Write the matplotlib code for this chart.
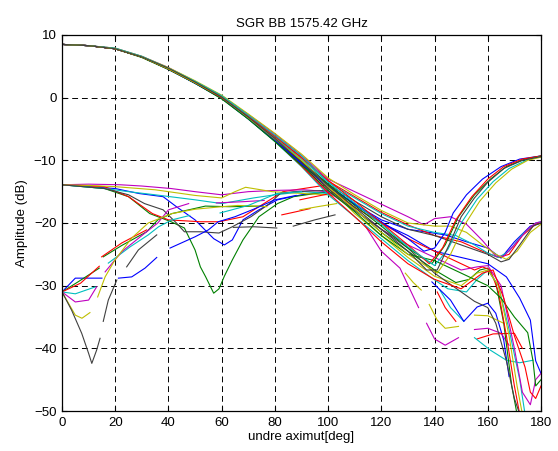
import numpy as np
import matplotlib.pyplot as plt

nan = np.nan

# matlab style line colours
B, G, R, C, M, Y, K = '#0000ff', '#008000', '#ff0000', '#00bfbf', '#bf00bf', '#bfbf00', '#404040'

head_x = [0, 10, 20, 30, 40, 50, 60, 70, 80, 90]

# main lobe curves: rise back to -10 dB at 180
rise_b = (head_x + [100, 110, 120, 130, 136, 140, 144, 147, 152, 158, 165, 172, 180],
          [8.5, 8.3, 7.8, 6.5, 4.6, 2.3, -0.1, -3.3, -6.8, -10.5,
           -14.0, -17.0, -19.8, -22.5, -24.5, -24.0, -21.5, -18.4, -15.5, -13.0, -11.0, -9.8, -9.3])
rise_r = (head_x + [100, 110, 120, 130, 138, 143, 148, 154, 160, 166, 173, 180],
          [8.5, 8.3, 7.8, 6.5, 4.6, 2.4, 0.0, -3.0, -6.2, -9.6,
           -13.2, -16.5, -20.0, -23.5, -26.5, -24.0, -19.5, -15.8, -13.0, -11.0, -9.8, -9.3])
rise_k = (head_x + [100, 110, 120, 130, 137, 141, 146, 150, 155, 160, 166, 173, 180],
          [8.5, 8.3, 7.8, 6.5, 4.7, 2.5, 0.1, -3.1, -6.5, -10.3,
           -14.0, -17.5, -21.0, -24.5, -27.5, -27.5, -23.0, -19.0, -16.0, -13.5, -11.3, -10.0, -9.4])
rise_g = (head_x + [100, 110, 120, 130, 139, 144, 149, 155, 161, 167, 174, 180],
          [8.5, 8.3, 7.8, 6.4, 4.5, 2.3, -0.2, -3.4, -7.0, -10.8,
           -13.8, -17.2, -20.5, -24.0, -26.5, -23.5, -19.0, -15.5, -13.0, -11.0, -9.8, -9.3])
rise_c = (head_x + [100, 110, 120, 130, 140, 145, 150, 156, 162, 168, 175, 180],
          [8.5, 8.3, 7.9, 6.6, 4.7, 2.6, 0.3, -2.8, -6.0, -9.3,
           -13.5, -16.8, -20.2, -23.8, -26.8, -24.2, -20.0, -16.2, -13.4, -11.3, -9.9, -9.4])
rise_y = (head_x + [100, 110, 120, 130, 141, 146, 151, 157, 163, 169, 175, 180],
          [8.5, 8.3, 7.8, 6.5, 4.6, 2.4, 0.1, -3.2, -6.6, -10.0,
           -14.2, -17.8, -21.5, -25.0, -28.0, -25.0, -20.5, -16.5, -13.6, -11.4, -10.0, -9.5])

# main lobe curves: dip near 165 and back to -20
v_m = (head_x + [100, 110, 120, 130, 136, 140, 146, 152, 158, 163, 166, 170, 175, 178, 180],
       [8.5, 8.3, 7.9, 6.6, 4.8, 2.6, 0.3, -2.7, -5.8, -9.2,
        -13.0, -15.0, -17.0, -19.0, -20.3, -19.3, -19.0, -20.2, -22.8, -25.3, -25.3, -23.5, -21.0, -20.0, -19.8])
v_y = (head_x + [100, 110, 120, 130, 140, 146, 152, 158, 163, 167, 171, 176, 180],
       [8.5, 8.3, 7.9, 6.6, 4.8, 2.7, 0.4, -2.6, -5.7, -9.0,
        -12.8, -15.5, -18.0, -20.0, -20.5, -20.5, -21.5, -23.5, -25.0, -25.8, -24.5, -21.5, -20.2])
v_c = (head_x + [100, 110, 120, 130, 140, 148, 155, 160, 164, 168, 173, 178, 180],
       [8.5, 8.3, 7.8, 6.5, 4.6, 2.4, 0.0, -3.1, -6.4, -9.8,
        -13.5, -16.0, -18.5, -20.5, -21.5, -22.0, -23.5, -24.8, -25.5, -24.5, -21.8, -20.0, -19.8])
v_k = (head_x + [100, 110, 120, 130, 140, 150, 160, 165, 168, 172, 177, 180],
       [8.5, 8.3, 7.8, 6.5, 4.6, 2.4, 0.0, -3.2, -6.7, -10.2,
        -13.8, -16.5, -19.0, -21.0, -22.0, -23.5, -25.0, -26.2, -25.8, -23.5, -20.5, -20.0])
v_b = (head_x + [100, 110, 120, 130, 138, 144, 152, 160, 165, 170, 176, 180],
       [8.5, 8.3, 7.8, 6.5, 4.5, 2.3, -0.1, -3.4, -6.9, -10.6,
        -14.2, -17.0, -19.5, -21.0, -21.5, -21.9, -23.0, -24.0, -25.6, -23.0, -20.5, -20.0])
v_r = (head_x + [100, 110, 120, 130, 140, 150, 158, 164, 168, 173, 178, 180],
       [8.5, 8.3, 7.8, 6.5, 4.6, 2.5, 0.2, -2.9, -6.1, -9.5,
        -13.3, -15.8, -18.3, -20.3, -22.0, -23.0, -24.5, -25.5, -25.0, -22.0, -20.2, -20.0])

# main lobe curves: falling off past 160
d_r = (head_x + [100, 110, 120, 130, 140, 150, 155, 158, 161, 164, 167, 170, 172],
       [8.5, 8.3, 7.8, 6.5, 4.6, 2.4, 0.0, -3.3, -6.9, -10.6,
        -14.5, -17.5, -20.0, -22.5, -24.5, -26.5, -27.5, -27.0, -27.5, -31.0, -38.0, -46.0, -50.5])
d_g = (head_x + [100, 110, 120, 130, 140, 148, 153, 157, 160, 163, 166, 169, 171],
       [8.5, 8.3, 7.8, 6.5, 4.6, 2.4, 0.0, -3.2, -6.6, -10.1,
        -13.8, -17.8, -21.5, -24.5, -27.5, -29.5, -29.0, -27.5, -27.2, -29.5, -36.0, -46.0, -50.5])
d_y = (head_x + [100, 110, 120, 130, 140, 150, 156, 160, 164, 168, 171, 173],
       [8.5, 8.3, 7.8, 6.5, 4.7, 2.5, 0.1, -3.0, -6.4, -10.0,
        -14.2, -18.5, -22.0, -25.5, -28.5, -30.0, -28.0, -27.5, -30.0, -38.0, -46.0, -50.5])
d_m = (head_x + [100, 110, 120, 130, 140, 150, 156, 160, 165, 170, 173, 176, 178, 180],
       [8.5, 8.3, 7.8, 6.5, 4.6, 2.4, 0.0, -3.3, -6.8, -10.7,
        -15.0, -18.0, -21.0, -23.5, -25.5, -27.5, -27.0, -26.8, -30.0, -40.0, -47.0, -49.0, -45.0, -44.0])
d_c = (head_x + [100, 110, 120, 130, 138, 145, 152, 156, 160, 164, 168, 172, 174],
       [8.5, 8.3, 7.8, 6.5, 4.6, 2.3, -0.1, -3.4, -7.0, -11.0,
        -15.5, -19.0, -22.5, -26.0, -28.5, -30.5, -31.0, -29.0, -27.5, -30.0, -37.0, -45.0, -50.5])
d_b = (head_x + [100, 110, 120, 130, 140, 150, 160, 167, 172, 176, 178, 180],
       [8.5, 8.3, 7.8, 6.5, 4.6, 2.4, 0.0, -3.1, -6.5, -10.2,
        -14.0, -17.0, -20.0, -22.0, -24.5, -25.5, -26.5, -28.6, -32.0, -35.5, -42.0, -44.0])
d_k = (head_x + [100, 110, 120, 130, 140, 145, 150, 155, 160, 163, 167, 170, 172],
       [8.5, 8.3, 7.8, 6.5, 4.6, 2.4, 0.0, -3.2, -6.7, -10.4,
        -14.5, -18.0, -21.0, -24.0, -28.0, -29.5, -31.0, -32.5, -33.5, -36.0, -42.0, -48.0, -50.5])
d_g2 = (head_x + [100, 110, 120, 130, 140, 150, 160, 165, 170, 175, 177, 178, 180],
        [8.5, 8.3, 7.8, 6.5, 4.6, 2.4, 0.0, -3.3, -6.9, -10.8,
         -14.8, -18.2, -22.0, -25.0, -26.0, -28.0, -30.0, -32.0, -35.0, -37.5, -42.0, -46.0, -45.0])
d_r2 = (head_x + [100, 110, 120, 130, 140, 150, 158, 162, 166, 170, 174, 176, 178, 180],
        [8.5, 8.3, 7.8, 6.5, 4.6, 2.4, 0.0, -3.3, -6.9, -10.9,
         -15.2, -19.0, -23.0, -26.5, -29.0, -30.5, -28.0, -27.5, -32.0, -38.0, -43.0, -47.0, -48.0, -46.0])

# curves starting at -14 dB
low_m = ([0, 10, 22, 30, 41, 50, 60, 70, 80, 91, 100, 106],
         [-13.9, -13.8, -13.9, -14.1, -14.5, -15.0, -15.5, -15.0, -14.8, -14.7, -15.0, -15.6])
low_y = ([0, 10, 20, 35, 50, 60, 65, 69, 79, 91, 100, 106],
         [-13.9, -14.0, -14.2, -14.7, -15.6, -16.0, -15.0, -14.3, -15.0, -15.3, -15.5, -16.0])
low_c = ([0, 16, 25, 35, 50, 60, 72, 80, 91, 100, 106],
         [-13.9, -14.5, -15.0, -15.5, -16.3, -16.9, -16.0, -15.5, -15.0, -15.3, -15.8])
low_b = ([0, 20, 29, 38, 43, 50, 57, 61, 64, 68, 74, 81, 90, 100],
         [-13.9, -14.5, -15.3, -15.8, -17.4, -19.5, -22.5, -23.5, -22.7, -19.5, -17.9, -16.3, -15.5, -15.0])
low_g = ([0, 16, 25, 33, 41, 46, 50, 52, 54, 57, 59, 61, 64, 68, 74, 81, 87, 100],
         [-13.9, -14.5, -15.8, -18.5, -19.8, -20.8, -24.3, -27.0, -28.6, -31.2, -30.5, -28.5, -25.9, -22.7, -19.0, -16.9, -15.8, -15.0])
low_k = ([0, 16, 25, 31, 38, 43, 46, 52, 59, 64, 71, 78, 82, 87, 100],
         [-13.9, -14.5, -15.5, -16.9, -17.9, -20.0, -21.4, -21.4, -21.6, -20.6, -19.0, -16.9, -15.3, -15.0, -14.8])
low_r = ([0, 16, 25, 34, 40, 52, 59, 68, 77, 83, 100],
         [-13.9, -14.2, -15.8, -18.5, -19.5, -19.8, -19.8, -19.0, -16.6, -15.0, -13.9])

# curves starting at -31 dB (short pieces)
start_b = ([0, 5, 15], [-31.0, -28.8, -28.8])
start_g = ([0, 6, 14], [-31.0, -29.4, -27.2])
start_r = ([0, 7, 14], [-31.0, -29.6, -26.9])
start_c = ([0, 5, 12.5], [-31.0, -31.3, -30.2])
start_m = ([0, 5, 10, 13], [-31.0, -32.6, -32.3, -30.2])
start_y = ([0, 5, 7.5, 10.5], [-31.0, -34.7, -35.2, -34.3])
start_k = ([0, 3.6, 7.4, 10, 11.2, 13, 14.3], [-31.0, -33.9, -37.6, -40.8, -42.4, -40.3, -38.4])

up_k = ([15.5, 17.4, 20.6, nan, 24.3, 28.7, 35.6], [-35.7, -32.3, -29.1, nan, -27.0, -24.3, -21.9])
up_y = ([13.4, 16.2, 19.9, 26.2, 32.4, 41.3, 50, 60, 66, 73, 77],
        [-31.8, -28.6, -25.9, -22.4, -20.0, -18.5, -17.8, -17.4, -17.2, -17.3, -17.4])
up_m = ([16.2, 22.4, 31.2, 36, 40, 47.6], [-27.8, -24.6, -21.6, -20.0, -17.9, -16.9])
up_r = ([14.9, 22.4, 31.8], [-25.4, -23.2, -21.1])
up_g = ([15.5, 22.4, 31.8, 36, 41.3, 53.9, 63, 75.6], [-25.4, -23.6, -21.4, -19.5, -18.5, -17.3, -17.4, -17.3])
up_c = ([17.4, 25.6, 32.4, 36.3, 41.3, 48], [-26.4, -23.8, -21.9, -20.6, -19.5, -18.8])
up_b = ([21.2, 26.2, 31.2, 35.6], [-28.8, -28.6, -27.2, -25.5])
mid_b = ([40.6, 50, 55, 58.7, 65, 72, 80, 88], [-24.0, -22.2, -21.1, -19.8, -19.0, -17.8, -16.3, -15.6])

# short pieces in the middle
seg_k1 = ([64.4, 72, 80.7], [-20.7, -20.6, -20.8])
seg_k2 = ([86.9, 95, 102.6], [-20.5, -19.5, -18.7])
seg_r2 = ([82.6, 88, 93.2], [-18.7, -18.2, -17.7])
seg_y4 = ([89.4, 96, 103.2], [-17.9, -17.4, -16.9])
seg_m4 = ([58, 68, 76], [-16.8, -16.6, -16.4])
seg_c3 = ([59.4, 70, 80.7, 90], [-18.4, -17.2, -15.3, -15.0])
seg_r5 = ([89.4, 95, 102], [-16.3, -15.8, -15.2])

# short pieces in the lower right
seg_m1 = ([114, 120, 127, 134], [-20.5, -24.5, -27.2, -33.5])
seg_y1 = ([129, 132, 135], [-28.0, -29.5, -30.7])
seg_m2 = ([137, 140, 144, 149], [-36.0, -38.5, -39.5, -38.3])
seg_y2 = ([138, 141, 144, 149], [-33.0, -35.5, -36.8, -36.5])
seg_r1 = ([141, 144, 148], [-31.0, -33.5, -35.7])
seg_c1 = ([142, 146, 151], [-30.7, -33.5, -35.7])
seg_b1 = ([139, 146, 151, 156, 160, 163, 166, 168], [-29.4, -32.3, -35.7, -33.4, -32.8, -34.4, -38.7, -44.5])
seg_y3 = ([155, 160, 166], [-34.7, -34.8, -36.0])
seg_m3 = ([155, 160, 165, 168], [-37.0, -36.8, -37.6, -39.5])
seg_r3 = ([156, 162, 170, 173], [-38.5, -37.7, -37.6, -40.0])
seg_c2 = ([155, 161, 167, 172, 177], [-38.3, -40.3, -41.9, -42.3, -41.9])

curves = [
    (low_b, B), (low_g, G), (low_r, R), (low_c, C), (low_m, M), (low_y, Y), (low_k, K),
    (start_b, B), (start_g, G), (start_r, R), (start_c, C), (start_m, M), (start_y, Y), (start_k, K),
    (up_b, B), (up_g, G), (up_r, R), (up_c, C), (up_m, M), (up_y, Y), (up_k, K), (mid_b, B),
    (seg_k1, K), (seg_k2, K), (seg_r2, R), (seg_y4, Y), (seg_m4, M), (seg_c3, C), (seg_r5, R),
    (seg_m1, M), (seg_y1, Y), (seg_m2, M), (seg_y2, Y), (seg_r1, R), (seg_c1, C), (seg_b1, B),
    (seg_y3, Y), (seg_m3, M), (seg_r3, R), (seg_c2, C),
    (d_b, B), (d_g, G), (d_r, R), (d_c, C), (d_m, M), (d_y, Y), (d_k, K), (d_g2, G), (d_r2, R),
    (v_b, B), (v_r, R), (v_c, C), (v_m, M), (v_y, Y), (v_k, K),
    (rise_b, B), (rise_g, G), (rise_r, R), (rise_c, C), (rise_y, Y), (rise_k, K),
]

plt.rcParams['font.family'] = ['Liberation Sans', 'DejaVu Sans']
plt.rcParams['font.size'] = 9.5

fig = plt.figure(figsize=(5.58, 4.51), dpi=100)
ax = fig.add_axes([62/558, 1-411/451, 479/558, 376/451])

for (x, y), col in curves:
    ax.plot(x, y, color=col, lw=0.8)

ax.set_xlim(0, 180)
ax.set_ylim(-50, 10)
ax.set_xticks(range(0, 181, 20))
ax.set_yticks(range(-50, 11, 10))
ax.grid(True, color='k', ls=(0, (6, 4)), lw=0.7)
ax.tick_params(direction='in', top=True, right=True, length=3.5, width=0.8, pad=4, labelsize=9.5)
for s in ax.spines.values():
    s.set_linewidth(0.9)

ax.set_title('SGR BB 1575.42 GHz', fontsize=9.5, pad=6)
ax.set_xlabel('undre aximut[deg]', labelpad=2)
ax.set_ylabel('Amplitude (dB)', labelpad=4)

fig.savefig('out.png', dpi=100)
